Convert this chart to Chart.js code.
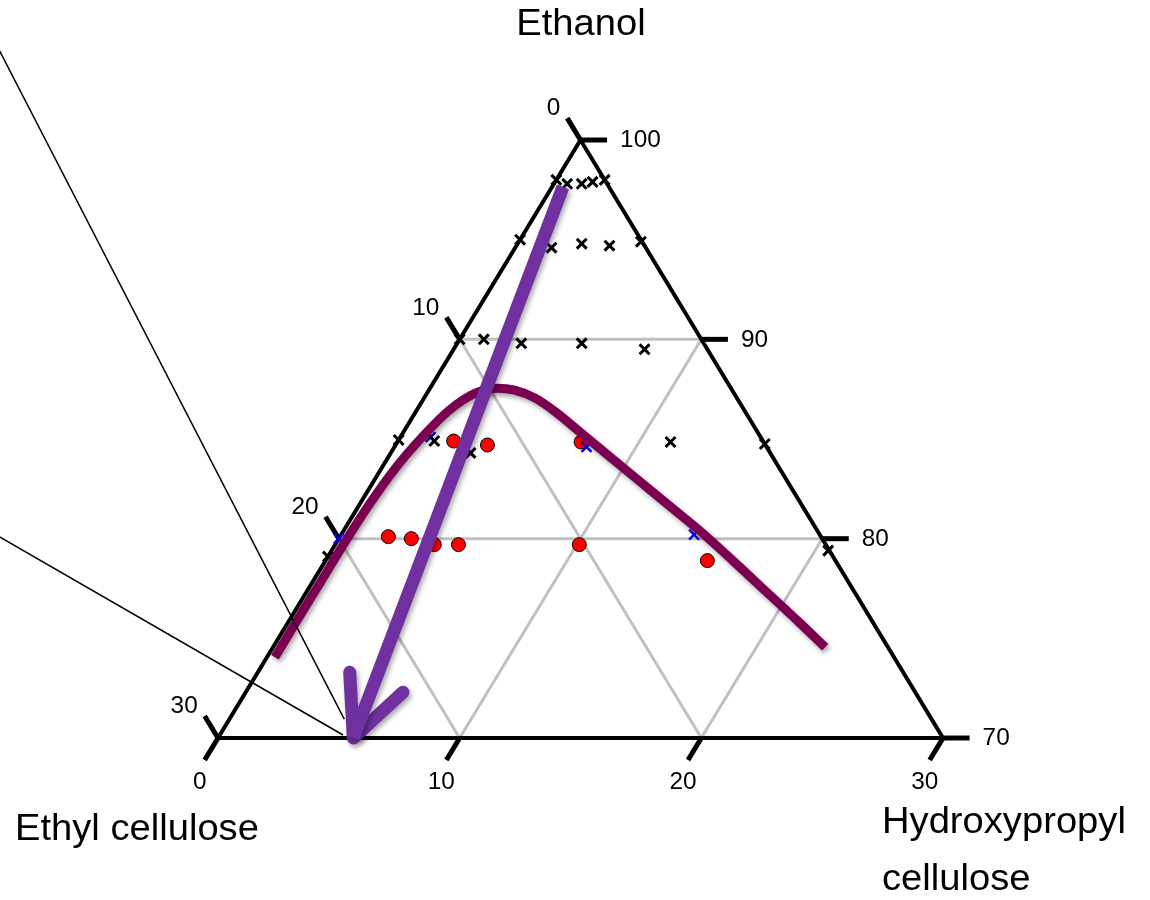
<!DOCTYPE html>
<html>
<head>
<meta charset="utf-8">
<title>Diagrama ternário</title>
<script src="https://cdn.jsdelivr.net/npm/chart.js@4.4.1/dist/chart.umd.min.js"></script>
<style>
  html, body { margin: 0; padding: 0; background: #fff; }
  #wrap { width: 1150px; height: 900px; }
</style>
</head>
<body>
<div id="wrap"><canvas id="ternario" width="1150" height="900"></canvas></div>
<script>
// Composições em % : etanol e hidroxipropilcelulose (etilcelulose = o resto)
const ethanolTicks = [100, 90, 80, 70];
const ecTicks = [0, 10, 20, 30];
const hpcTicks = [0, 10, 20, 30];

// pontos vermelhos (círculos)
const redEthanol = [84.9, 84.7, 84.85, 80.1, 80.0, 79.7, 79.7, 79.7, 78.9];
const redHPC = [2.3, 3.8, 7.6, 2.0, 3.0, 4.1, 5.1, 10.1, 15.8];

// cruzes pretas
const blackEthanol = [98.0, 97.8, 97.8, 97.9, 98.0, 95.0, 94.6, 94.8, 94.7, 94.9,
  90.0, 90.0, 89.8, 89.8, 89.5, 84.95, 84.9, 84.3, 84.85, 84.75, 79.1, 79.4];
const blackHPC = [0, 0.55, 1.15, 1.55, 2.0, 0, 1.5, 2.65, 3.85, 5.05,
  0, 1.0, 2.65, 5.15, 7.9, 0, 1.5, 3.3, 11.3, 15.25, 0, 20.55];

// cruzes azuis
const blueEthanol = [85.1, 84.6, 80.2, 80.0];
const blueHPC = [1.25, 7.95, 14.6, 0];

// curva (fronteira)
const curveEthanol = [74.05, 75.8, 77.8, 79.85, 81.7, 83.45, 85.1, 86.45, 87.3, 87.55,
  87.45, 87.05, 86.35, 85.35, 84.25, 83.15, 81.75, 80.35, 78.9, 77.35, 75.8, 74.55];
const curveHPC = [0.33, 0.32, 0.33, 0.34, 0.4, 0.56, 0.9, 1.35, 2.0, 2.75,
  3.55, 4.6, 5.8, 7.3, 8.95, 10.6, 12.7, 14.8, 16.85, 19.0, 21.15, 22.85];

// seta roxa
const arrowEthanol = [97.65, 70.0];
const arrowHPC = [0.45, 5.6];
const arrowHeadEthanol = [73.3, 70.0, 72.3];
const arrowHeadHPC = [3.8, 5.6, 6.5];

// linhas finas
const line1Ethanol = [104.5, 70.95];
const line1HPC = [-26.3, 4.75];
const line2Ethanol = [80.1, 70.15];
const line2HPC = [-14.1, 5.1];

// etanol + HPC -> coordenadas do gráfico
function pos(e, h) {
  const y = e - 70;
  return { x: h + y / 2, y: y };
}
function serie(eArr, hArr) {
  return eArr.map((e, i) => pos(e, hArr[i]));
}

const FONTE = '"Liberation Sans", Arial, sans-serif';
const ESTICA = 1.06;
const TICK = 1.1;

function texto(ctx, t, x, y, size, align, base) {
  ctx.save();
  ctx.translate(x, y);
  ctx.scale(ESTICA, 1);
  ctx.font = size + 'px ' + FONTE;
  ctx.fillStyle = '#000';
  ctx.textAlign = align;
  ctx.textBaseline = base || 'middle';
  ctx.fillText(t, 0, 0);
  ctx.restore();
}

const eixosTernarios = {
  id: 'eixosTernarios',
  beforeDatasetsDraw(chart) {
    const ctx = chart.ctx;
    const sx = chart.scales.x, sy = chart.scales.y;
    const px = (e, h) => {
      const p = pos(e, h);
      return [sx.getPixelForValue(p.x), sy.getPixelForValue(p.y)];
    };
    const linha = (a, b) => {
      ctx.beginPath();
      ctx.moveTo(a[0], a[1]);
      ctx.lineTo(b[0], b[1]);
      ctx.stroke();
    };
    ctx.save();
    ctx.lineCap = 'butt';
    // grade cinza
    ctx.strokeStyle = '#c0c0c0';
    ctx.lineWidth = 3;
    ethanolTicks.slice(1, -1).forEach(e => linha(px(e, 0), px(e, 100 - e)));
    hpcTicks.slice(1, -1).forEach(h => linha(px(70, h), px(100 - h, h)));
    ecTicks.slice(1, -1).forEach(c => linha(px(70, 30 - c), px(100 - c, 0)));
    // lados do triângulo
    ctx.strokeStyle = '#000';
    ctx.lineWidth = 4;
    ctx.lineJoin = 'miter';
    const a = px(100, 0), b = px(70, 0), c = px(70, 30);
    ctx.beginPath();
    ctx.moveTo(a[0], a[1]);
    ctx.lineTo(b[0], b[1]);
    ctx.lineTo(c[0], c[1]);
    ctx.closePath();
    ctx.stroke();
    // marcas dos eixos
    ctx.lineWidth = 5;
    ecTicks.forEach(v => linha(px(100 - v, 0), px(100 - v + TICK, -TICK)));
    ethanolTicks.forEach(v => linha(px(v, 100 - v), px(v, 100 - v + TICK)));
    hpcTicks.forEach(v => linha(px(70, v), px(70 - TICK, v)));
    ctx.restore();

    // rótulos dos eixos
    ecTicks.forEach(v => {
      const p = px(100 - v + TICK, -TICK);
      texto(ctx, String(v), p[0] - 7, p[1] - 9, 23, 'right');
    });
    ethanolTicks.forEach(v => {
      const p = px(v, 100 - v + TICK);
      texto(ctx, String(v), p[0] + 13, p[1] + 1, 23, 'left');
    });
    hpcTicks.forEach(v => {
      const p = px(70 - TICK, v);
      texto(ctx, String(v), p[0] - 5, p[1] + 23, 23, 'center');
    });
  },
  afterDraw(chart) {
    const ctx = chart.ctx;
    texto(ctx, 'Ethanol', 581, 35, 36, 'center', 'alphabetic');
    texto(ctx, 'Ethyl cellulose', 15, 840, 36, 'left', 'alphabetic');
    texto(ctx, 'Hydroxypropyl', 882, 833, 36, 'left', 'alphabetic');
    texto(ctx, 'cellulose', 882, 890, 36, 'left', 'alphabetic');
  }
};

// sombra para a curva e a seta
const sombra = {
  id: 'sombra',
  beforeDatasetDraw(chart, args) {
    if (chart.data.datasets[args.index].sombra) {
      const ctx = chart.ctx;
      ctx.save();
      ctx.shadowColor = 'rgba(0,0,0,0.35)';
      ctx.shadowBlur = 5;
      ctx.shadowOffsetX = 2;
      ctx.shadowOffsetY = 3;
    }
  },
  afterDatasetDraw(chart, args) {
    if (chart.data.datasets[args.index].sombra) {
      chart.ctx.restore();
    }
  }
};

const ctx = document.getElementById('ternario').getContext('2d');

new Chart(ctx, {
  type: 'scatter',
  data: {
    datasets: [
      {
        label: 'seta',
        data: serie(arrowEthanol, arrowHPC),
        showLine: true,
        borderColor: '#7030a0',
        borderWidth: 13,
        borderCapStyle: 'butt',
        pointRadius: 0,
        sombra: true,
        order: 1
      },
      {
        label: 'ponta da seta',
        data: serie(arrowHeadEthanol, arrowHeadHPC),
        showLine: true,
        borderColor: '#7030a0',
        borderWidth: 13,
        borderCapStyle: 'round',
        borderJoinStyle: 'round',
        pointRadius: 0,
        sombra: true,
        order: 1
      },
      {
        label: 'linha 1',
        data: serie(line1Ethanol, line1HPC),
        showLine: true,
        borderColor: '#000',
        borderWidth: 1.5,
        pointRadius: 0,
        order: 2
      },
      {
        label: 'linha 2',
        data: serie(line2Ethanol, line2HPC),
        showLine: true,
        borderColor: '#000',
        borderWidth: 1.5,
        pointRadius: 0,
        order: 2
      },
      {
        label: 'curva',
        data: serie(curveEthanol, curveHPC),
        showLine: true,
        borderColor: '#7b0052',
        borderWidth: 9,
        borderCapStyle: 'butt',
        cubicInterpolationMode: 'monotone',
        pointRadius: 0,
        sombra: true,
        order: 3
      },
      {
        label: 'cruzes pretas',
        data: serie(blackEthanol, blackHPC),
        pointStyle: 'crossRot',
        pointRadius: 7,
        borderColor: '#000',
        borderWidth: 3,
        order: 4
      },
      {
        label: 'cruzes azuis',
        data: serie(blueEthanol, blueHPC),
        pointStyle: 'crossRot',
        pointRadius: 7,
        borderColor: '#0000ee',
        borderWidth: 2.5,
        order: 5
      },
      {
        label: 'círculos',
        data: serie(redEthanol, redHPC),
        pointStyle: 'circle',
        pointRadius: 7,
        backgroundColor: '#ff0000',
        borderColor: '#000',
        borderWidth: 1,
        order: 6
      }
    ]
  },
  options: {
    responsive: false,
    animation: false,
    events: [],
    layout: { padding: 0, autoPadding: false },
    plugins: {
      legend: { display: false },
      tooltip: { enabled: false }
    },
    scales: {
      x: { type: 'linear', display: false, min: -9.02, max: 38.565 },
      y: { type: 'linear', display: false, min: -8.127, max: 37.024 }
    }
  },
  plugins: [eixosTernarios, sombra]
});
</script>
</body>
</html>
